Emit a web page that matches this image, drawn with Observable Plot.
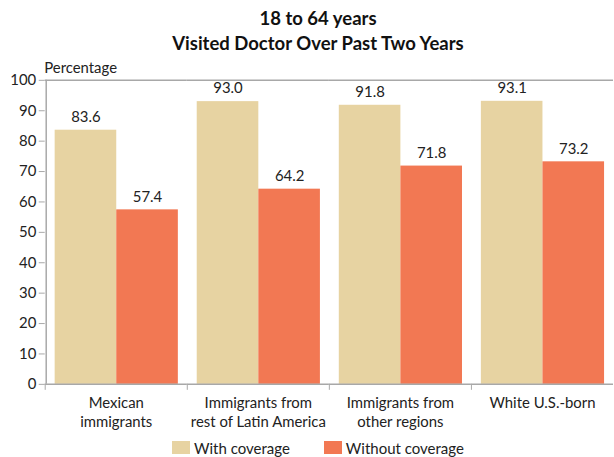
<!DOCTYPE html>
<html><head><meta charset="utf-8">
<script src="https://cdn.jsdelivr.net/npm/d3@7"></script>
<script src="https://cdn.jsdelivr.net/npm/@observablehq/plot@0.6"></script>
<style>
html,body{margin:0;padding:0;overflow:hidden;background:#fff}
body{width:614px;font-family:Lato,sans-serif;color:#222}
#title{height:50px;padding-top:6px;line-height:25px;font-size:18.5px;font-weight:bold;text-align:center;padding-left:22px;box-sizing:content-box;color:#111}
#chart svg{display:block}
#legend{display:flex;align-items:center;padding-left:172px;font-size:15px;height:20px;margin-top:4px}
.item{display:flex;align-items:center;margin-right:34px}
.sw{width:18px;height:13px;margin-right:4px}
</style></head><body>
<div id="title"><div>18 to 64 years</div><div>Visited Doctor Over Past Two Years</div></div>
<div id="chart"></div>
<div id="legend"></div>
<script>
const groups = ["Mexican immigrants", "Immigrants from rest of Latin America", "Immigrants from other regions", "White U.S.-born"];
const groupLabels = ["Mexican\nimmigrants", "Immigrants from\nrest of Latin America", "Immigrants from\nother regions", "White U.S.-born"];
const series = ["With coverage", "Without coverage"];
const withCoverage = [83.6, 93.0, 91.8, 93.1];
const withoutCoverage = [57.4, 64.2, 71.8, 73.2];
const yTicks = [0, 10, 20, 30, 40, 50, 60, 70, 80, 90, 100];
const colors = ["#E7D3A2", "#F27853"];

const data = [];
groups.forEach((g, i) => {
  data.push({group: g, series: series[0], value: withCoverage[i]});
  data.push({group: g, series: series[1], value: withoutCoverage[i]});
});

const W = 618, ML = 45, MR = 1, PO = 0.135;
const step = (W - ML - MR) / groups.length;
const xStep = step / (series.length + 2 * PO);
const firstCenter = PO * xStep + xStep / 2;

const chart = Plot.plot({
  width: W, height: 380,
  marginLeft: ML, marginRight: MR, marginTop: 24, marginBottom: 50,
  style: {fontFamily: "Lato, sans-serif", fontSize: "15px", color: "#222", background: "#fff"},
  fx: {domain: groups, paddingInner: 0, paddingOuter: 0, label: null, axis: null},
  x: {domain: series, paddingInner: 0, paddingOuter: PO, axis: null},
  y: {domain: [0, 100], label: null, axis: null},
  color: {domain: series, range: colors},
  marks: [
    Plot.barY(data, {fx: "group", x: "series", y: "value", fill: "series"}),
    Plot.text(data, {fx: "group", x: "series", y: "value", text: d => d.value.toFixed(1), dy: -13, fill: "#222", fontSize: 15}),
    Plot.ruleY([0, 100], {stroke: "#a8a8a8", strokeWidth: 1.5}),
    Plot.axisY({ticks: yTicks, tickSize: 6, tickPadding: 3, label: null, fontSize: 15, stroke: "#a8a8a8", fill: "#222"}),
    Plot.ruleX([series[0]], {fx: () => groups[0], x: d => d, y1: 0, y2: 100, dx: -firstCenter, stroke: "#a8a8a8", strokeWidth: 1.5}),
    Plot.text(["Percentage"], {fx: () => groups[0], frameAnchor: "top-left", textAnchor: "start", dy: -18, dx: -1, fill: "#222", fontSize: 15}),
    Plot.axisFx({anchor: "bottom", tickSize: 6, dx: -step / 2, tickFormat: () => "", stroke: "#a8a8a8"}),
    Plot.axisFx({anchor: "bottom", tickSize: 0, tickPadding: 10, lineAnchor: "top", lineHeight: 1.27, fontSize: 15, fill: "#222",
      tickFormat: g => groupLabels[groups.indexOf(g)]})
  ]
});
document.getElementById("chart").appendChild(chart);

const leg = document.getElementById("legend");
series.forEach((s, i) => {
  const it = document.createElement("div");
  it.className = "item";
  it.innerHTML = `<span class="sw" style="background:${colors[i]}"></span><span>${s}</span>`;
  leg.appendChild(it);
});
</script>
</body></html>
